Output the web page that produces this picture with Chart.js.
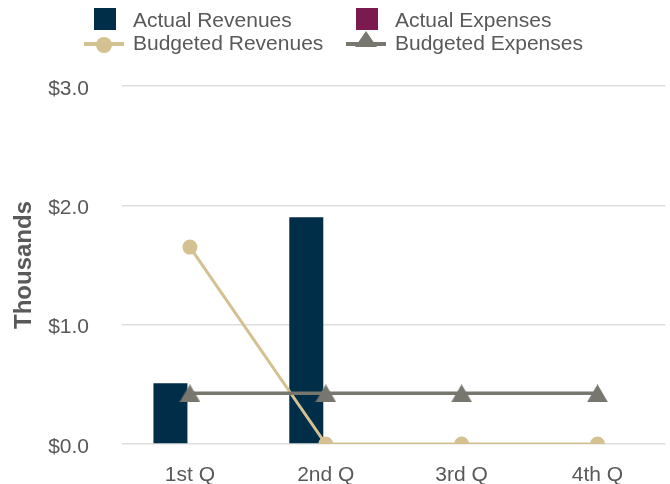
<!DOCTYPE html>
<html>
<head>
<meta charset="utf-8">
<script src="https://cdn.jsdelivr.net/npm/chart.js@4/dist/chart.umd.min.js"></script>
<style>
  html, body { margin: 0; padding: 0; background: #fff; }
  #wrap { position: relative; width: 670px; height: 484px; }
  #c { position: absolute; left: 0; top: 0; }
  .lg { position: absolute; font-family: "Liberation Sans", Arial, sans-serif; font-size: 21px; line-height: 21px; color: #595959; white-space: nowrap; }
  .mk { position: absolute; }
</style>
</head>
<body>
<div id="wrap">
  <canvas id="c" width="670" height="484"></canvas>
  <div id="legend"></div>
</div>
<script>
const categories = ["1st Q", "2nd Q", "3rd Q", "4th Q"];
const actualRevenues = [0.51, 1.90, 0, 0];
const actualExpenses = [0, 0, 0, 0];
const budgetedRevenues = [1.65, 0, 0, 0];
const budgetedExpenses = [0.425, 0.425, 0.425, 0.425];
const yTicks = [0, 1, 2, 3];
const seriesNames = ["Actual Revenues", "Actual Expenses", "Budgeted Revenues", "Budgeted Expenses"];

const NAVY = "#002E48", MAROON = "#7A1A4F", TAN = "#D4C191", GRAY = "#77776F", TEXT = "#595959";

function triangleImg(w, h, color) {
  const c = document.createElement("canvas");
  c.width = w; c.height = h;
  const g = c.getContext("2d");
  g.fillStyle = color;
  g.beginPath(); g.moveTo(w / 2, 0); g.lineTo(w, h); g.lineTo(0, h); g.closePath(); g.fill();
  return c;
}
const tri = triangleImg(21, 18, GRAY);

const legend = document.getElementById("legend");
function addText(txt, x, top) {
  const d = document.createElement("div");
  d.className = "lg"; d.textContent = txt;
  d.style.left = x + "px"; d.style.top = top + "px";
  legend.appendChild(d);
}
function addBox(x, y, w, h, color, radius) {
  const d = document.createElement("div");
  d.className = "mk";
  d.style.left = x + "px"; d.style.top = y + "px";
  d.style.width = w + "px"; d.style.height = h + "px";
  d.style.background = color;
  if (radius) d.style.borderRadius = radius;
  legend.appendChild(d);
}
addBox(93.5, 7.5, 22, 22, NAVY);
addText(seriesNames[0], 133, 9);
addBox(355.5, 7.5, 22, 22, MAROON);
addText(seriesNames[1], 395, 9);
addBox(84, 42, 40, 4, TAN);
addBox(96, 36.5, 16, 16, TAN, "50%");
addText(seriesNames[2], 133, 32.3);
addBox(346, 42, 40, 4, GRAY);
(function(){
  const t = triangleImg(22, 16, GRAY);
  t.className = "mk"; t.style.left = "355px"; t.style.top = "31px";
  legend.appendChild(t);
})();
addText(seriesNames[3], 395, 32.3);

new Chart(document.getElementById("c"), {
  data: {
    labels: categories,
    datasets: [
      { type: "bar", label: seriesNames[0], data: actualRevenues, backgroundColor: NAVY, order: 3,
        categoryPercentage: 0.574, barPercentage: 0.872 },
      { type: "bar", label: seriesNames[1], data: actualExpenses, backgroundColor: MAROON, order: 3,
        categoryPercentage: 0.574, barPercentage: 0.872 },
      { type: "line", label: seriesNames[2], data: budgetedRevenues, borderColor: TAN, backgroundColor: TAN,
        borderWidth: 3, pointRadius: 7.5, pointHoverRadius: 7.5, pointStyle: "circle", pointBorderWidth: 0, order: 2, tension: 0 },
      { type: "line", label: seriesNames[3], data: budgetedExpenses, borderColor: GRAY, backgroundColor: GRAY,
        borderWidth: 3.5, pointStyle: tri, pointRadius: 10, order: 1, tension: 0 }
    ]
  },
  options: {
    responsive: false,
    animation: false,
    layout: { autoPadding: false, padding: { top: 86, right: 4.6, left: 0, bottom: 0 } },
    plugins: { legend: { display: false }, tooltip: { enabled: false } },
    scales: {
      x: {
        grid: { display: false, drawTicks: false },
        border: { display: false },
        ticks: { color: TEXT, font: { family: "Liberation Sans", size: 21 }, padding: 19 },
        afterFit: (s) => { s.height = 40; }
      },
      y: {
        min: 0, max: 3,
        afterBuildTicks: (s) => { s.ticks = yTicks.map(v => ({ value: v })); },
        grid: { color: "#DDDDDD", lineWidth: 1.5, drawTicks: false },
        border: { display: false },
        ticks: { color: TEXT, font: { family: "Liberation Sans", size: 21 }, padding: 33, labelOffset: 3,
          callback: (v) => "$" + Number(v).toFixed(1) },
        title: { display: true, text: "Thousands", color: TEXT, font: { family: "Liberation Sans", size: 24, weight: "bold" },
          padding: { top: 10, bottom: 0 } },
        afterFit: (s) => { s.width = 122; s.paddingTop = 13; s.paddingBottom = 13; }
      }
    }
  }
});
</script>
</body>
</html>
